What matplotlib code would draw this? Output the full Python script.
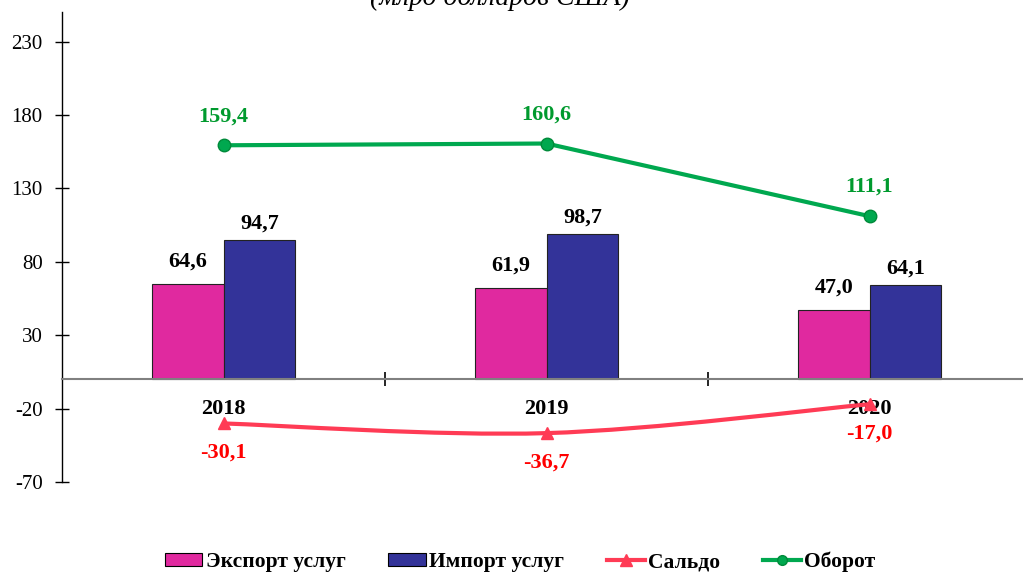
import numpy as np
import matplotlib
matplotlib.use("Agg")
import matplotlib.pyplot as plt
from matplotlib.path import Path
from matplotlib.patches import PathPatch, Patch
from matplotlib.lines import Line2D

years = ["2018", "2019", "2020"]
export_vals = [64.6, 61.9, 47.0]
import_vals = [94.7, 98.7, 64.1]
saldo_vals = [-30.1, -36.7, -17.0]
turnover_vals = [159.4, 160.6, 111.1]
yticks = [-70, -20, 30, 80, 130, 180, 230]
title = "(млрд долларов США)"
legend_labels = ["Экспорт услуг", "Импорт услуг", "Сальдо", "Оборот"]

plt.rcParams['font.family'] = ['Liberation Serif', 'DejaVu Serif']

c_exp = "#E0299F"
c_imp = "#333399"
c_sal = "#FF3B55"
c_tur = "#00A84F"
c_tur_lbl = "#009A2E"
c_sal_lbl = "#FF0000"

fig = plt.figure(figsize=(10.23, 5.74), dpi=100)
ax = fig.add_axes([62/1023, 1 - 482/574, 969/1023, (482 - 12.3)/574])
ax.set_xlim(-0.5, 2.5)
ax.set_ylim(-70, 250)

x = np.arange(len(years))
bw = 0.222
ax.bar(x - bw/2, export_vals, bw, color=c_exp, edgecolor="#222222", linewidth=0.8, zorder=2)
ax.bar(x + bw/2, import_vals, bw, color=c_imp, edgecolor="#222222", linewidth=0.8, zorder=2)

for xi, v in zip(x - bw/2, export_vals):
    ax.annotate(f"{v:.1f}".replace(".", ","), (xi, v), xytext=(0, 9), textcoords="offset points",
                ha="center", va="bottom", fontsize=16, fontweight="bold", color="black")
for xi, v in zip(x + bw/2, import_vals):
    ax.annotate(f"{v:.1f}".replace(".", ","), (xi, v), xytext=(0, 5), textcoords="offset points",
                ha="center", va="bottom", fontsize=16, fontweight="bold", color="black")

# turnover line (straight)
ax.plot(x, turnover_vals, color=c_tur, lw=3, marker="o", markersize=9,
        markerfacecolor=c_tur, markeredgecolor="#008a3a", markeredgewidth=1, zorder=4)
for xi, v in zip(x, turnover_vals):
    ax.annotate(f"{v:.1f}".replace(".", ","), (xi, v), xytext=(0, 21), textcoords="offset points",
                ha="center", va="center", fontsize=16, fontweight="bold", color=c_tur_lbl)

# saldo line (smoothed with Catmull-Rom Bezier segments)
P = np.column_stack([x.astype(float), np.array(saldo_vals)])
ext = np.vstack([P[0], P, P[-1]])
verts = [tuple(P[0])]
codes = [Path.MOVETO]
for i in range(len(P) - 1):
    p0, p1, p2, p3 = ext[i], ext[i + 1], ext[i + 2], ext[i + 3]
    c1 = p1 + (p2 - p0) / 6
    c2 = p2 - (p3 - p1) / 6
    verts += [tuple(c1), tuple(c2), tuple(p2)]
    codes += [Path.CURVE4] * 3
ax.add_patch(PathPatch(Path(verts, codes), facecolor="none", edgecolor=c_sal, lw=3, zorder=4))
ax.plot(x, saldo_vals, linestyle="none", marker="^", markersize=9, color=c_sal, zorder=5)
for xi, v in zip(x, saldo_vals):
    ax.annotate(f"{v:.1f}".replace(".", ","), (xi, v), xytext=(0, -21),
                textcoords="offset points", ha="center", va="center", fontsize=16,
                fontweight="bold", color=c_sal_lbl)

# axes styling
for s in ["top", "right"]:
    ax.spines[s].set_visible(False)
ax.spines["bottom"].set_position(("data", 0))
ax.spines["bottom"].set_color("#808080")
ax.spines["bottom"].set_linewidth(1.5)
ax.spines["left"].set_color("black")
ax.spines["left"].set_linewidth(1.0)
ax.spines["left"].set_bounds(-70, 250)

ax.set_yticks(yticks)
ax.set_yticklabels([str(t) for t in yticks], fontsize=15)
ax.tick_params(axis="y", direction="inout", length=10, width=1, pad=9)

ax.set_xticks(x)
ax.set_xticklabels(years, fontsize=16, fontweight="bold")
ax.tick_params(axis="x", which="major", length=0, pad=14)
ax.set_xticks([0.5, 1.5], minor=True)
ax.tick_params(axis="x", which="minor", direction="inout", length=10, width=1.2, color="black")

fig.text(500/1023, 1 - 5/574, title, ha="center", va="baseline", fontsize=20, style="italic")

handles = [
    Patch(facecolor=c_exp, edgecolor="black", linewidth=0.8),
    Patch(facecolor=c_imp, edgecolor="black", linewidth=0.8),
    Line2D([0], [0], color=c_sal, lw=3, marker="^", markersize=8),
    Line2D([0], [0], color=c_tur, lw=3, marker="o", markersize=7, markeredgecolor="#008a3a"),
]
fig.legend(handles, legend_labels, loc="center", bbox_to_anchor=(520/1023, 1 - 562/574), ncol=4,
           frameon=False, prop={"weight": "bold", "size": 15.5}, handlelength=1.75, handleheight=0.6,
           handletextpad=0.15, columnspacing=2.0)

fig.savefig("out.png", dpi=100)
